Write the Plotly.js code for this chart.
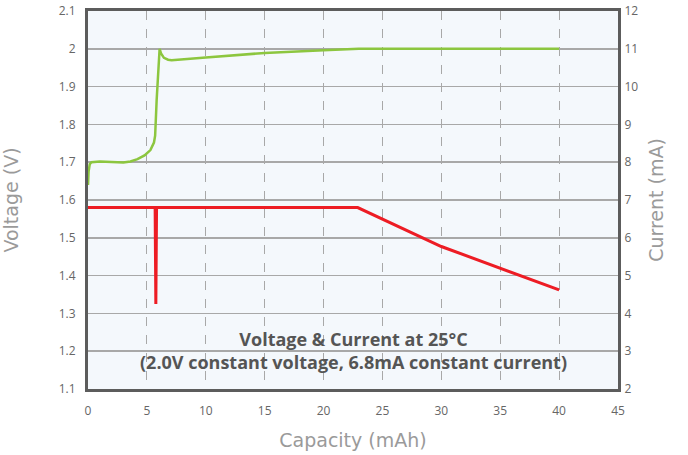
<!DOCTYPE html>
<html>
<head>
<meta charset="utf-8">
<script src="https://cdn.plot.ly/plotly-3.0.1.min.js"></script>
<style>
  html, body { margin: 0; padding: 0; background: #ffffff; }
  #chart { width: 688px; height: 455px; }
</style>
</head>
<body>
<div id="chart"></div>
<script>
// Voltage curve (left axis, V) vs capacity (mAh)
const voltageCapacity = [0, 0.05, 0.15, 0.3, 1, 2, 3, 3.6, 4.2, 4.8, 5.3, 5.6, 5.7, 5.83, 5.97, 6.08, 6.2, 6.45, 6.8, 7.1, 10, 15, 20, 23, 30, 40];
const voltageValues   = [1.64, 1.675, 1.695, 1.70, 1.702, 1.70, 1.699, 1.702, 1.708, 1.718, 1.732, 1.752, 1.77, 1.865, 1.94, 2.0, 1.988, 1.976, 1.971, 1.970, 1.977, 1.989, 1.996, 2.0, 2.0, 2.0];

// Current curve (right axis, mA) vs capacity (mAh)
const currentCapacity = [0, 5.7, 5.76, 5.82, 22.9, 30, 40];
const currentValues   = [6.8, 6.8, 4.25, 6.8, 6.8, 5.77, 4.62];

// Axis tick values
const voltageTicks = [1.1, 1.2, 1.3, 1.4, 1.5, 1.6, 1.7, 1.8, 1.9, 2.0, 2.1];
const voltageTickLabels = ["1.1", "1.2", "1.3", "1.4", "1.5", "1.6", "1.7", "1.8", "1.9", "2", "2.1"];
const currentTicks = [2, 3, 4, 5, 6, 7, 8, 9, 10, 11, 12];
const capacityTicks = [0, 5, 10, 15, 20, 25, 30, 35, 40, 45];

const chartTitleLines = ["Voltage & Current at 25°C", "(2.0V constant voltage, 6.8mA constant current)"];

const tickFont = { family: "Open Sans, sans-serif", size: 12, color: "#666666" };
const titleFont = { family: "DejaVu Sans, sans-serif", size: 19, color: "#9a9a9a" };
const borderColor = "#5c5c5c";

const traces = [
  {
    x: voltageCapacity, y: voltageValues, type: "scatter", mode: "lines",
    line: { color: "#8cc63f", width: 2.5 }, yaxis: "y", hoverinfo: "skip", showlegend: false
  },
  {
    x: currentCapacity, y: currentValues, type: "scatter", mode: "lines",
    line: { color: "#ed1c24", width: 3 }, yaxis: "y2", hoverinfo: "skip", showlegend: false
  }
];

const layout = {
  width: 688, height: 455,
  margin: { l: 88, r: 70, t: 11, b: 66 },
  paper_bgcolor: "#ffffff",
  plot_bgcolor: "#f4f8fc",
  showlegend: false,
  xaxis: {
    range: [0, 45], tickvals: capacityTicks,
    showgrid: true, gridcolor: "#a8a8a8", griddash: "dash", gridwidth: 1.2,
    zeroline: false, showline: true, mirror: true, linecolor: borderColor, linewidth: 3,
    ticks: "outside", ticklen: 9, tickcolor: "rgba(0,0,0,0)",
    tickfont: tickFont,
    title: { text: "Capacity (mAh)", font: titleFont, standoff: 16 }
  },
  yaxis: {
    range: [1.1, 2.1], tickvals: voltageTicks, ticktext: voltageTickLabels,
    showgrid: true, gridcolor: "#a8a8a8", gridwidth: 1.5,
    zeroline: false, showline: true, mirror: true, linecolor: borderColor, linewidth: 3,
    ticks: "outside", ticklen: 7, tickcolor: "rgba(0,0,0,0)",
    tickfont: tickFont,
    title: { text: "Voltage (V)", font: titleFont, standoff: 36 }
  },
  yaxis2: {
    range: [2, 12], tickvals: currentTicks, overlaying: "y", side: "right",
    showgrid: false, zeroline: false, showline: false,
    ticks: "outside", ticklen: 3, tickcolor: "rgba(0,0,0,0)",
    tickfont: tickFont,
    title: { text: "Current (mA)", font: titleFont, standoff: 12 }
  },
  annotations: [
    {
      xref: "paper", yref: "paper", x: 0.5, y: 0.103, xanchor: "center", yanchor: "middle",
      text: "<b>" + chartTitleLines[0] + "</b><br><b>" + chartTitleLines[1] + "</b>",
      showarrow: false, align: "center",
      font: { family: "Open Sans, sans-serif", size: 18, color: "#555555" }
    }
  ]
};

Plotly.newPlot("chart", traces, layout, { staticPlot: true, displayModeBar: false });
</script>
</body>
</html>
